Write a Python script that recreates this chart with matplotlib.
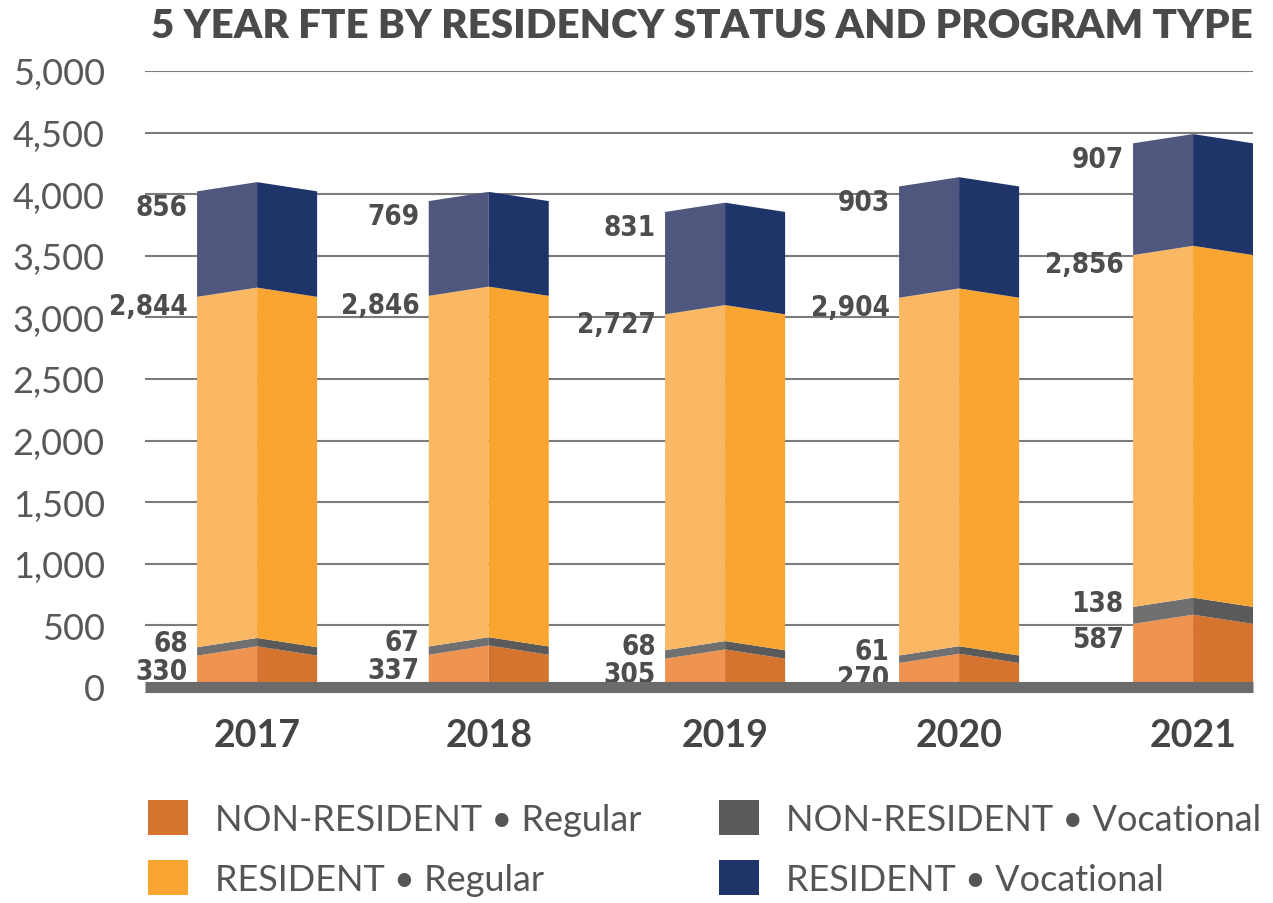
import matplotlib.pyplot as plt
from matplotlib.patches import Polygon, Patch

years = ["2017", "2018", "2019", "2020", "2021"]
nonres_regular = [330, 337, 305, 270, 587]
nonres_vocational = [68, 67, 68, 61, 138]
res_regular = [2844, 2846, 2727, 2904, 2856]
res_vocational = [856, 769, 831, 903, 907]

series = [nonres_regular, nonres_vocational, res_regular, res_vocational]
names = ["NON-RESIDENT \u2022 Regular", "NON-RESIDENT \u2022 Vocational",
         "RESIDENT \u2022 Regular", "RESIDENT \u2022 Vocational"]
# (lit left face, shaded right face)
faces = [("#EE9450", "#D4742F"), ("#707070", "#5A5A5A"),
         ("#FBB864", "#F9A531"), ("#4F577F", "#1F3469")]
label_drop = [200, 40, 150, 200]

plt.rcParams["font.family"] = ["Lato", "DejaVu Sans"]

fig = plt.figure(figsize=(12.73, 9.04), dpi=100)
ax = fig.add_axes([145 / 1273, (904 - 688) / 904, (1253 - 145) / 1273, (688 - 72) / 904])

x = [0, 0.99, 2.0, 3.0, 4.0]
w = 0.513
d = 75  # dip of the bar edges, gives the "prism" look

ax.set_xlim(-0.479, 4.256)
ax.set_ylim(0, 5000)

for i, xc in enumerate(x):
    lo = 0
    for k, vals in enumerate(series):
        hi = lo + vals[i]
        dlo = d if lo > 0 else 0
        left = [(xc - w / 2, lo - dlo), (xc, lo), (xc, hi), (xc - w / 2, hi - d)]
        right = [(xc, lo), (xc + w / 2, lo - dlo), (xc + w / 2, hi - d), (xc, hi)]
        ax.add_patch(Polygon(left, closed=True, fc=faces[k][0], ec="none", zorder=3))
        ax.add_patch(Polygon(right, closed=True, fc=faces[k][1], ec="none", zorder=3))
        ax.text(xc - w / 2 - 0.04, hi - label_drop[k], f"{vals[i]:,}",
                ha="right", va="center", fontsize=20, fontweight="bold",
                family="DejaVu Sans", fontstretch="condensed", color="#4d4d4d", zorder=4)
        lo = hi

# grid and heavy baseline
for yv in range(500, 5001, 500):
    ax.axhline(yv, color="#7b7b7b", lw=1.5, zorder=1)
ax.axhline(0, color="#6b6b6b", lw=8, zorder=5, clip_on=False, solid_capstyle="butt")

for s in ax.spines.values():
    s.set_visible(False)
ax.set_yticks(range(0, 5001, 500))
ax.set_yticklabels([f"{v:,}" for v in range(0, 5001, 500)], fontsize=26, color="#585858")
ax.set_xticks(x)
ax.set_xticklabels(years, fontsize=27, fontweight="bold", color="#444444")
ax.tick_params(axis="y", length=0, pad=29)
ax.tick_params(axis="x", length=0, pad=22)

fig.text((153 + 1250) / 2 / 1273, 1 - 26 / 904,
         "5 YEAR FTE BY RESIDENCY STATUS AND PROGRAM TYPE",
         ha="center", va="center", fontsize=29, fontweight="heavy", color="#4a4a4a")

handles = [Patch(fc=faces[k][1], ec="none", label=names[k]) for k in (0, 2, 1, 3)]
fig.legend(handles=handles, ncol=2, loc="upper left",
           bbox_to_anchor=(148 / 1273, 1 - 801 / 904), frameon=False,
           fontsize=26, labelcolor="#555555", handlelength=1.1, handleheight=1.1,
           handletextpad=0.75, columnspacing=2.15, labelspacing=0.68,
           borderpad=0, borderaxespad=0)

fig.savefig("out.png", dpi=100)
